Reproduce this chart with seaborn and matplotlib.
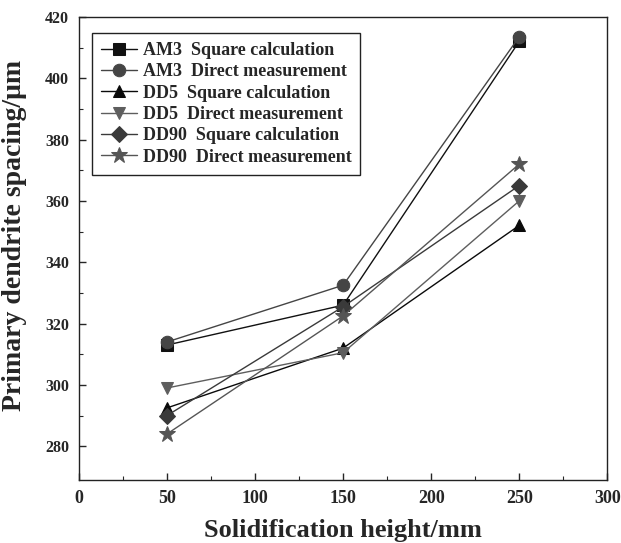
import pandas as pd
import matplotlib.pyplot as plt
import seaborn as sns

# Solidification height (mm) and primary dendrite spacing (um)
heights = [50, 150, 250]
am3_square = [313, 326, 412]
am3_direct = [314, 332.5, 413.5]
dd5_square = [292.5, 312, 352]
dd5_direct = [299, 310.5, 360]
dd90_square = [290, 325.5, 365]
dd90_direct = [284, 322.5, 372]

labels = ['AM3  Square calculation', 'AM3  Direct measurement',
          'DD5  Square calculation', 'DD5  Direct measurement',
          'DD90  Square calculation', 'DD90  Direct measurement']
series = [am3_square, am3_direct, dd5_square, dd5_direct, dd90_square, dd90_direct]
markers = ['s', 'o', '^', 'v', 'D', '*']
sizes = [8, 9, 9, 9, 8, 12]
colors = ['#111111', '#454545', '#0a0a0a', '#5e5e5e', '#3a3a3a', '#555555']

sns.set_style('ticks')
plt.rcParams['font.family'] = ['Liberation Serif', 'DejaVu Serif']
plt.rcParams['font.weight'] = 'bold'

fig = plt.figure(figsize=(6.21, 5.43), dpi=100)
ax = fig.add_axes([0.127, 0.116, 0.851, 0.853])

for lab, vals, m, ms, c in zip(labels, series, markers, sizes, colors):
    df = pd.DataFrame({'height': heights, 'spacing': vals})
    sns.lineplot(data=df, x='height', y='spacing', ax=ax, marker=m, markersize=ms,
                 color=c, markeredgecolor=c, linewidth=1.0, label=lab)

ax.set_xlim(0, 300)
ax.set_ylim(269, 420)
ax.set_xticks(range(0, 301, 50))
ax.set_xticks(range(25, 300, 50), minor=True)
ax.set_yticks(range(280, 421, 20))
ax.set_yticks(range(290, 420, 20), minor=True)
ax.tick_params(axis='both', which='major', direction='in', length=5, width=1, pad=7)
ax.tick_params(axis='x', which='major', labelsize=13)
ax.tick_params(axis='y', which='major', labelsize=11.5)
ax.tick_params(axis='both', which='minor', direction='in', length=3, width=0.8)
for lbl in ax.get_xticklabels() + ax.get_yticklabels():
    lbl.set_fontweight('bold')
for s in ax.spines.values():
    s.set_linewidth(1.0)
    s.set_color('#222222')

ax.set_xlabel('Solidification height/mm', fontsize=19, fontweight='bold')
ax.xaxis.set_label_coords(0.5, -0.084)
ax.set_ylabel('Primary dendrite spacing/\u03bcm', fontsize=20, fontweight='bold')
ax.yaxis.set_label_coords(-0.098, 0.527)

leg = ax.legend(loc='upper left', bbox_to_anchor=(0.025, 0.965), borderaxespad=0,
                fancybox=False, edgecolor='#222222', framealpha=1, handlelength=2.0,
                handletextpad=0.3, labelspacing=0.24, borderpad=0.5,
                prop={'size': 13, 'weight': 'bold'})
leg.get_frame().set_linewidth(1.0)

fig.savefig('out.png', dpi=100)
